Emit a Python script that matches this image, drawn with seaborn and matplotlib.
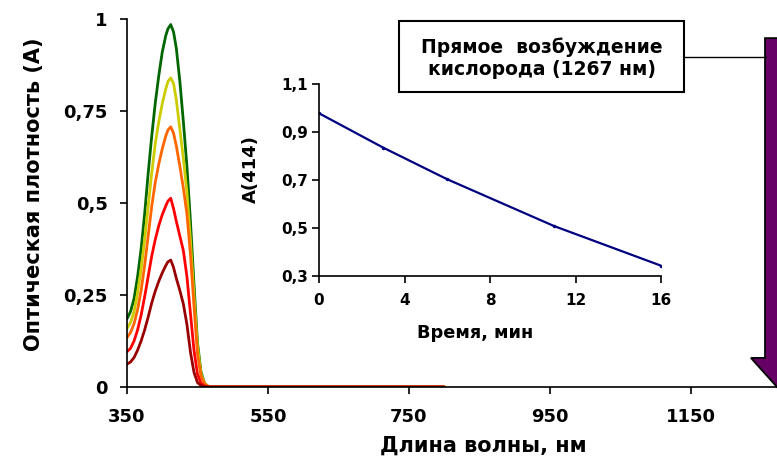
import matplotlib
matplotlib.use("Agg")
import matplotlib.pyplot as plt
import numpy as np
import pandas as pd
import seaborn as sns
from matplotlib.patches import Polygon, Rectangle
from matplotlib.lines import Line2D

sns.set_style("white")
plt.rcParams['font.family'] = ['DejaVu Sans']
plt.rcParams['font.weight'] = 'bold'
for k in ['text.color', 'axes.labelcolor', 'xtick.color', 'ytick.color', 'axes.edgecolor']:
    plt.rcParams[k] = 'black'

# ---------------- data ----------------
wavelength = [350, 355, 360, 365, 370, 375, 380, 385, 390, 395, 400, 405, 408, 412,
              416, 420, 425, 430, 435, 440, 445, 450, 455, 460, 465, 470, 480, 500,
              600, 700, 800]
spec_t0 = [0.185, 0.205, 0.24, 0.30, 0.375, 0.47, 0.58, 0.68, 0.77, 0.845, 0.91, 0.955, 0.973, 0.985,
           0.965, 0.92, 0.83, 0.72, 0.60, 0.45, 0.28, 0.12, 0.04, 0.01, 0.002, 0.0, 0.0, 0.0,
           0.0, 0.0, 0.0]
spec_t3 = [0.159, 0.175, 0.205, 0.255, 0.32, 0.40, 0.49, 0.58, 0.66, 0.72, 0.77, 0.81, 0.83, 0.84,
           0.825, 0.78, 0.70, 0.62, 0.53, 0.40, 0.25, 0.11, 0.035, 0.01, 0.002, 0.0, 0.0, 0.0,
           0.0, 0.0, 0.0]
spec_t6 = [0.134, 0.148, 0.172, 0.21, 0.262, 0.33, 0.41, 0.49, 0.555, 0.605, 0.647, 0.682, 0.698, 0.707,
           0.69, 0.655, 0.60, 0.54, 0.47, 0.36, 0.22, 0.09, 0.03, 0.008, 0.002, 0.0, 0.0, 0.0,
           0.0, 0.0, 0.0]
spec_t11 = [0.096, 0.105, 0.125, 0.155, 0.195, 0.245, 0.30, 0.355, 0.40, 0.438, 0.468, 0.492, 0.505, 0.513,
            0.485, 0.45, 0.41, 0.37, 0.30, 0.20, 0.10, 0.035, 0.01, 0.003, 0.0, 0.0, 0.0, 0.0,
            0.0, 0.0, 0.0]
spec_t16 = [0.062, 0.068, 0.08, 0.10, 0.125, 0.155, 0.19, 0.228, 0.26, 0.287, 0.31, 0.33, 0.34, 0.345,
            0.325, 0.295, 0.262, 0.225, 0.17, 0.095, 0.04, 0.012, 0.004, 0.001, 0.0, 0.0, 0.0, 0.0,
            0.0, 0.0, 0.0]
series_names = ["0 мин", "3 мин", "6 мин", "11 мин", "16 мин"]
series_colors = ["#006600", "#CCCC00", "#FF6600", "#FF0000", "#990000"]

time_min = [0, 3, 6, 11, 16]
a414 = [0.978, 0.835, 0.703, 0.508, 0.343]

main_xticks = [350, 550, 750, 950, 1150]
main_yticks = [0, 0.25, 0.5, 0.75, 1]
main_yticklabels = ["0", "0,25", "0,5", "0,75", "1"]
inset_xticks = [0, 4, 8, 12, 16]
inset_yticks = [0.3, 0.5, 0.7, 0.9, 1.1]
inset_yticklabels = ["0,3", "0,5", "0,7", "0,9", "1,1"]

# ---------------- figure ----------------
W, H = 777, 458
fig = plt.figure(figsize=(W / 100, H / 100), dpi=100)
fig.patch.set_facecolor("white")

ax = fig.add_axes([127 / W, 71 / H, 650 / W, 368 / H])
ax.set_facecolor("none")

df = pd.concat([
    pd.DataFrame({"wl": wavelength, "A": vals, "series": name})
    for name, vals in zip(series_names, [spec_t0, spec_t3, spec_t6, spec_t11, spec_t16])
], ignore_index=True)

sns.lineplot(data=df, x="wl", y="A", hue="series", hue_order=series_names,
             palette=dict(zip(series_names, series_colors)), sort=False,
             estimator=None, legend=False, ax=ax, linewidth=2.0)

ax.set_xlim(350, 1272)
ax.set_ylim(0, 1)
ax.set_xticks(main_xticks)
ax.set_xticklabels([str(t) for t in main_xticks])
ax.set_yticks(main_yticks)
ax.set_yticklabels(main_yticklabels)
for s in ["top", "right"]:
    ax.spines[s].set_visible(False)
for s in ["left", "bottom"]:
    ax.spines[s].set_color("black")
    ax.spines[s].set_linewidth(1.2)
ax.tick_params(axis="both", direction="out", length=5, width=1.2, color="black",
               labelcolor="black", labelsize=13, bottom=True, left=True)
ax.tick_params(axis="y", pad=9)
ax.tick_params(axis="x", pad=10)
for lab in ax.get_xticklabels() + ax.get_yticklabels():
    lab.set_fontweight("bold")
ax.set_xlabel("Длина волны, нм", fontsize=15, fontweight="bold", color="black")
ax.set_ylabel("Оптическая плотность (A)", fontsize=15, fontweight="bold", color="black")
ax.xaxis.set_label_coords(0.548, -0.133)
ax.yaxis.set_label_coords(-0.128, 0.523)

# arrow (direct excitation at 1267 nm)
arrow_x = 1272
body_hw, head_hw = 17, 37
body_top, head_base = 0.948, 0.079
arrow = Polygon([[arrow_x - body_hw, body_top], [arrow_x + body_hw, body_top],
                 [arrow_x + body_hw, head_base], [arrow_x + head_hw, head_base],
                 [arrow_x, 0.0], [arrow_x - head_hw, head_base],
                 [arrow_x - body_hw, head_base]],
                closed=True, facecolor="#660066", edgecolor="black", linewidth=1.3,
                clip_on=False, zorder=5)
ax.add_patch(arrow)

# text box + connector
box = Rectangle((399 / W, 1 - 92 / H), 285 / W, 71 / H, transform=fig.transFigure,
                facecolor="white", edgecolor="black", linewidth=1.5, zorder=6)
fig.patches.append(box)
fig.text(541.5 / W, 1 - 58 / H, "Прямое  возбуждение\nкислорода (1267 нм)",
         ha="center", va="center", fontsize=13.5, fontweight="bold", color="black",
         linespacing=1.2, zorder=7)
fig.lines.append(Line2D([684 / W, 766 / W], [1 - 57 / H, 1 - 57 / H],
                        transform=fig.transFigure, color="black", linewidth=1.0))

# ---------------- inset ----------------
ax2 = fig.add_axes([319 / W, (H - 276) / H, 342 / W, 192 / H])
ax2.set_facecolor("none")
sns.lineplot(x=time_min, y=a414, ax=ax2, color="#000080", linewidth=1.6,
             marker="o", markersize=2.5, markeredgewidth=0)
ax2.set_xlim(0, 16)
ax2.set_ylim(0.3, 1.1)
ax2.set_xticks(inset_xticks)
ax2.set_xticklabels([str(t) for t in inset_xticks])
ax2.set_yticks(inset_yticks)
ax2.set_yticklabels(inset_yticklabels)
for s in ["top", "right"]:
    ax2.spines[s].set_visible(False)
for s in ["left", "bottom"]:
    ax2.spines[s].set_color("black")
    ax2.spines[s].set_linewidth(1.2)
ax2.tick_params(axis="both", direction="out", length=5, width=1.2, color="black",
                labelcolor="black", labelsize=11, bottom=True, left=True)
ax2.tick_params(axis="y", pad=3)
ax2.tick_params(axis="x", pad=7)
for lab in ax2.get_xticklabels() + ax2.get_yticklabels():
    lab.set_fontweight("bold")
ax2.set_xlabel("Время, мин", fontsize=12.8, fontweight="bold", color="black")
ax2.set_ylabel("A(414)", fontsize=13, fontweight="bold", color="black")
ax2.xaxis.set_label_coords(0.456, -0.25)
ax2.yaxis.set_label_coords(-0.172, 0.557)

fig.savefig("out.png", dpi=100)
